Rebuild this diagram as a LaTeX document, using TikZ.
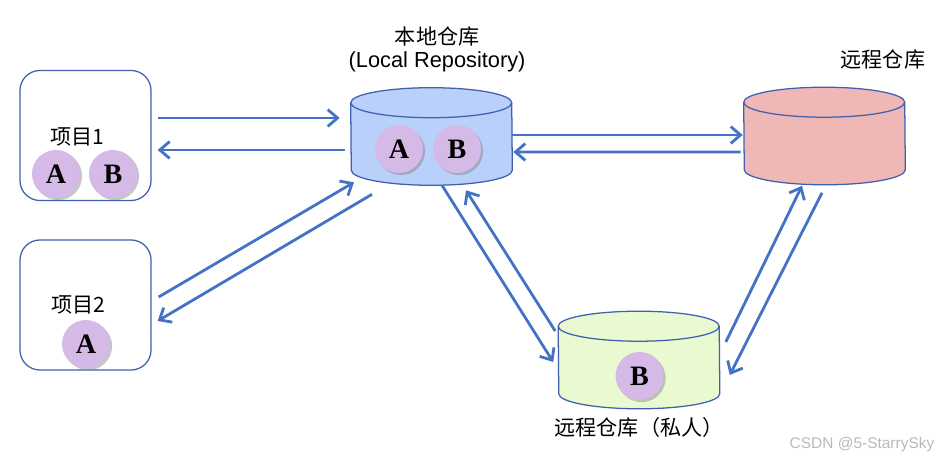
\documentclass[tikz,border=0pt]{standalone}
\usepackage{fontspec}
\setmainfont{Liberation Sans}
\newfontfamily\cjk{Noto Sans CJK SC}
\newfontfamily\letterfont{Liberation Serif}
\usetikzlibrary{shapes.geometric, arrows.meta, positioning, shadows}
\definecolor{mline}{HTML}{4472C4}
\definecolor{medge}{HTML}{3F61AE}
\definecolor{mlocal}{HTML}{B9D0FA}
\definecolor{mremote}{HTML}{F0B7B7}
\definecolor{mprivate}{HTML}{E9FAD1}
\definecolor{mcommit}{HTML}{D5B9E7}
\tikzstyle{project} = [rectangle, rounded corners=0.5cm, minimum width=3.275cm, minimum height=3.25cm, draw=medge, line width=0.9pt]
\tikzstyle{repo} = [rectangle, minimum width=4.025cm, minimum height=2.425cm, inner sep=0pt]
\tikzstyle{barrel} = [draw=medge, line width=0.9pt]
\tikzstyle{commit} = [circle, minimum size=1.2cm, inner sep=0pt, fill=mcommit, font=\letterfont\bfseries\fontsize{20}{20}\selectfont, drop shadow={shadow xshift=1.5pt, shadow yshift=-1.5pt, opacity=0.45}]
\tikzstyle{title} = [font=\cjk\fontsize{15}{18}\selectfont, inner sep=0pt]
\tikzstyle{push} = [line width=2pt, draw=mline, -{Straight Barb[length=7pt, width=12pt]}]

\begin{document}
\begin{tikzpicture}[x=0.025cm, y=-0.025cm, node distance=0.4cm]
\useasboundingbox (0,0) rectangle (952,465);
\node (proj1) [project] at (85.5,135.5) {};
\node (proj2) [project] at (85.5,305) {};
\node (local) [repo] at (431.5,136.5) {};
\node (remote) [repo] at (824.5,136) {};
\node (private) [repo] at (639,360) {};
% the three repositories as barrels
\foreach \r/\c in {local/mlocal, remote/mremote, private/mprivate} {
  \filldraw [barrel, fill=\c] ([yshift=-0.375cm]\r.north west)
    arc [start angle=180, end angle=0, x radius=2.0125cm, y radius=0.375cm]
    -- ([yshift=0.375cm]\r.south east)
    arc [start angle=0, end angle=-180, x radius=2.0125cm, y radius=0.375cm] -- cycle;
  \draw [barrel] ([yshift=-0.375cm]\r.north west)
    arc [start angle=180, end angle=360, x radius=2.0125cm, y radius=0.375cm];
}
\node (p1name) [title] at (77,137) {项目1};
\node (p2name) [title] at (78,305) {项目2};
\node (p1a) [commit] at (56,174) {A};
\node (p1b) [commit] at (113,174) {B};
\node (p2a) [commit] at (86,344) {A};
\node (la) [commit] at (399,149) {A};
\node (lb) [commit] at (457,149) {B};
\node (pb) [commit] at (639.5,376) {B};
\node (localsub) [above=0.38cm of local, xshift=0.14cm, font=\fontsize{15.5}{18}\selectfont, inner sep=0pt] {(Local Repository)};
\node (localname) [title, above=0.12cm of localsub] {本地仓库};
\node (remotename) [title, above=0.45cm of remote, xshift=1.46cm] {远程仓库};
\node (privatename) [title, below=0.2cm of private] {远程仓库（私人）};
\node (mark) [font=\fontsize{11}{13}\selectfont, text=gray!55] at (862,444) {CSDN @5-StarrySky};
\draw [push] ([shift={(6,-17.5)}]proj1.east) -- ([shift={(-11,-18.5)}]local.west);
\draw [push] ([shift={(-6,13.5)}]local.west) -- ([shift={(6,14.5)}]proj1.east);
\draw [push] ([shift={(7,-8)}]proj2.east) -- ([shift={(-77.5,-3)}]local.south);
\draw [push] ([shift={(-59.5,9)}]local.south) -- ([shift={(6,16)}]proj2.east);
\draw [push] ([shift={(0,-1.5)}]local.east) -- ([shift={(-1,-1)}]remote.west);
\draw [push] ([shift={(-3,16)}]remote.west) -- ([shift={(1,15.5)}]local.east);
\draw [push] ([shift={(10.5,0)}]local.south) -- ([shift={(-5,2)}]private.west);
\draw [push] ([shift={(-3,-29)}]private.west) -- ([shift={(34.5,5)}]local.south);
\draw [push] ([shift={(6,-18)}]private.east) -- ([shift={(-22.5,1)}]remote.south);
\draw [push] ([shift={(-2.5,8)}]remote.south) -- ([shift={(10,15)}]private.east);
\end{tikzpicture}
\end{document}
